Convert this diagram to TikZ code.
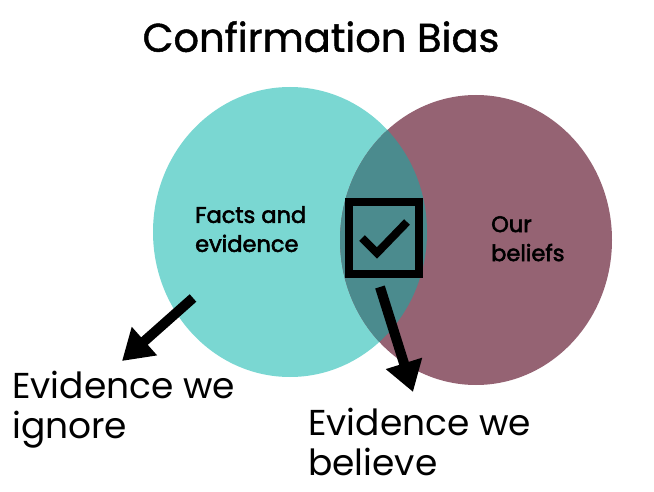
\documentclass[tikz,border=0pt]{standalone}
\usepackage{fontspec}
\setmainfont{Poppins}
\newfontfamily\medfont{Poppins}[FakeBold=1.2]
\newfontfamily\labfont{Poppins}[FakeBold=2.4]
\usetikzlibrary{arrows.meta}
\definecolor{factcol}{HTML}{7AD7D2}
\definecolor{beliefcol}{HTML}{956373}
\definecolor{bothcol}{HTML}{4B8B8E}
\tikzset{
  bigarrow/.style={line width=10pt,-{Triangle[length=30pt,width=36pt]}},
  label/.style={font=\fontsize{22.5}{29}\labfont,align=left,anchor=north west,inner sep=0pt},
  outcome/.style={font=\fontsize{36}{39.5}\selectfont,align=left,anchor=north west,inner sep=0pt}
}
\begin{document}
\begin{tikzpicture}[x=1pt,y=-1pt]
  \useasboundingbox (0,0) rectangle (654,492);
  \fill[factcol] (290,232) ellipse [x radius=137,y radius=145];
  \fill[beliefcol] (476,240) ellipse [x radius=136,y radius=145];
  \begin{scope}
    \clip (290,232) ellipse [x radius=137,y radius=145];
    \fill[bothcol] (476,240) ellipse [x radius=136,y radius=145];
  \end{scope}
  \node[font=\fontsize{40}{46}\medfont,anchor=north,inner sep=0pt] (title) at (321,21) {Confirmation Bias};
  \node[label] (facts) at (195,206) {Facts and\\evidence};
  \node[label] (ours) at (491,216) {Our\\beliefs};
  % tick box in the overlap
  \draw[line width=8pt] (349,202) rectangle (419,274);
  \draw[line width=8pt] (362,238) -- (377,253) -- (407,222);
  \node[outcome] (ignore) at (12,371) {Evidence we\\ignore};
  \node[outcome] (believe) at (308,408) {Evidence we\\believe};
  \coordinate (from1) at (193,298);
  \coordinate (to1) at (122,361);
  \coordinate (from2) at (380,287);
  \coordinate (to2) at (413,392);
  \draw[bigarrow] (from1) -- (to1);
  \draw[bigarrow] (from2) -- (to2);
\end{tikzpicture}
\end{document}
